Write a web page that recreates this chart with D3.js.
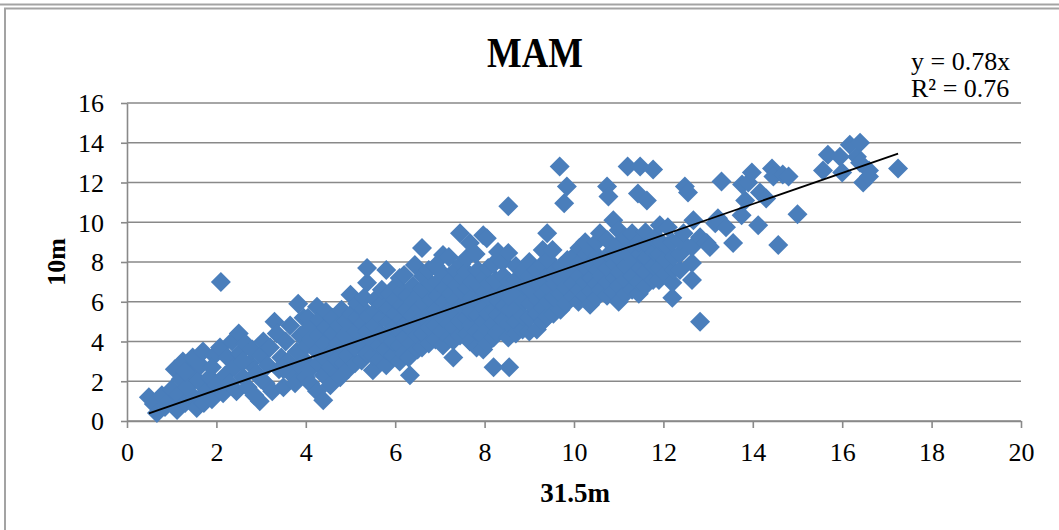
<!DOCTYPE html>
<html>
<head>
<meta charset="utf-8">
<script src="https://cdn.jsdelivr.net/npm/d3@7"></script>
<style>
  body { margin: 0; background: #fff; }
  svg { display: block; }
  text { font-family: "Liberation Serif", "Times New Roman", serif; fill: #000; }
</style>
</head>
<body>
<svg id="chart" width="1059" height="530"></svg>
<script>
// Spring (MAM) wind speed pairs: [speed at 31.5 m, speed at 10 m], m/s
const calmPairs = [
  [0.49,1.2],[0.6,0.85],[0.67,0.4],[0.78,1.3],[0.85,0.7],[0.95,1.0],[1.0,1.6],[1.07,2.6],[1.12,0.55],
  [1.15,1.3],[1.2,2.1],[1.25,3.0],[1.3,0.9],[1.35,1.7],[1.42,2.5],[1.47,3.2],[1.5,1.2],[1.56,0.65],
  [1.6,2.0],[1.65,2.8],[1.7,3.5],[1.72,0.9],[1.78,1.5],[1.85,2.2],[1.9,1.1],[1.95,3.3],[2.0,1.8],
  [2.08,3.7],[2.1,7.0],[2.15,1.4],[2.2,2.3],[2.25,3.2],[2.3,1.9],[2.35,4.0],[2.4,2.7],[2.45,1.5],
  [2.5,4.4],[2.52,3.4],[2.6,2.2],[2.65,3.9],[2.7,1.7],[2.75,2.9],[2.8,3.6],[2.85,1.3],[2.9,2.4],
  [2.97,1.0],[3.0,3.3],[3.05,4.0],[3.1,1.9],[3.15,2.8],[3.2,3.7],[3.25,1.5],[3.3,5.0],[3.35,4.4],
  [3.4,2.6],[3.45,3.2],[3.5,1.7],[3.55,4.0],[3.6,3.0],[3.65,4.8],[3.7,2.3],[3.76,1.9],[3.8,3.5],
  [3.83,5.9],[3.88,4.3],[3.9,2.7],[3.95,5.2],[1.3,2.5],[1.9,2.7],[2.6,3.0],[3.0,2.1],[3.5,2.6]
];

const moderatePairs = [
  [4.0,2.2],[4.0,3.0],[4.02,3.8],[4.0,4.5],[4.05,5.2],[4.1,1.9],[4.1,2.6],[4.12,4.1],[4.15,4.9],
  [4.25,5.75],[4.25,1.5],[4.25,3.5],[4.28,2.9],[4.3,4.3],[4.3,5.1],[4.39,1.05],[4.4,2.3],[4.4,3.2],
  [4.42,3.9],[4.45,4.7],[4.45,5.5],[4.55,1.8],[4.55,2.7],[4.58,3.5],[4.6,4.4],[4.6,5.2],[4.7,2.4],
  [4.7,3.1],[4.72,3.9],[4.75,4.8],[4.77,2.2],[4.8,5.6],[4.85,2.9],[4.85,3.6],[4.88,4.3],[4.9,5.0],
  [4.95,2.6],[4.95,3.3],[5.0,4.0],[5.0,4.6],[5.02,5.4],[5.0,6.35],[5.1,2.9],[5.1,3.7],[5.12,4.5],
  [5.15,5.2],[5.15,5.9],[5.25,3.05],[5.25,3.9],[5.28,4.9],[5.3,5.6],[5.3,6.2],[5.37,3.4],[5.37,4.5],
  [5.4,5.3],[5.37,6.95],[5.37,7.7],[5.5,2.55],[5.5,3.3],[5.5,4.0],[5.52,4.8],[5.55,5.5],[5.55,6.1],
  [5.65,3.1],[5.65,3.8],[5.68,4.4],[5.7,5.2],[5.7,5.9],[5.7,6.6],[5.8,2.8],[5.8,3.6],[5.82,4.2],
  [5.85,5.0],[5.85,5.7],[5.88,6.4],[5.8,7.6],[5.95,3.3],[5.95,4.0],[5.98,4.7],[6.0,5.4],[6.0,6.1],
  [6.02,6.8],[6.1,3.0],[6.1,3.8],[6.12,4.5],[6.15,5.1],[6.15,5.8],[6.15,6.5],[6.1,7.2],[6.2,3.4],
  [6.22,4.2],[6.25,4.9],[6.25,5.6],[6.28,6.3],[6.2,7.35],[6.33,2.3],[6.3,3.2],[6.35,3.9],[6.38,4.6],
  [6.38,5.3],[6.4,6.0],[6.4,6.8],[6.44,7.85],[6.5,3.6],[6.5,4.3],[6.52,5.0],[6.55,5.7],[6.55,6.4],
  [6.6,3.7],[6.62,4.4],[6.65,5.2],[6.65,5.9],[6.6,6.6],[6.62,7.3],[6.6,8.7],[6.75,3.9],[6.75,4.7],
  [6.78,5.4],[6.8,6.1],[6.8,6.9],[6.75,7.6],[6.9,4.1],[6.9,4.8],[6.92,5.6],[6.95,6.3],[6.95,7.0],
  [6.9,7.8],[7.07,3.8],[7.05,4.5],[7.08,5.2],[7.1,6.0],[7.1,6.7],[7.07,7.4],[7.07,8.35],[7.2,4.2],
  [7.2,4.9],[7.22,5.6],[7.25,6.4],[7.25,7.1],[7.2,8.25],[7.3,3.2],[7.3,4.05],[7.32,4.7],[7.35,5.4],
  [7.35,6.1],[7.38,6.8],[7.35,7.6],[7.45,4.3],[7.45,5.0],[7.48,5.8],[7.5,6.5],[7.5,7.2],[7.48,7.9],
  [7.45,9.45],[7.6,4.4],[7.6,5.2],[7.62,5.9],[7.62,6.7],[7.6,7.5],[7.6,8.2],[7.67,4.0],[7.7,4.8],
  [7.7,5.5],[7.72,6.2],[7.72,7.0],[7.67,8.95],[7.82,3.7],[7.82,4.5],[7.85,5.3],[7.85,6.0],[7.88,6.8],
  [7.85,7.6],[7.8,8.4],[7.97,3.6],[7.95,4.3],[7.98,5.0],[7.98,5.7],[8.0,6.5],[8.0,7.2],[7.97,9.35]
];

const freshPairs = [
  [8.05,3.9],[8.05,4.6],[8.08,5.4],[8.1,6.2],[8.1,6.9],[8.08,7.7],[8.05,9.2],[8.2,2.7],[8.2,4.2],
  [8.2,4.9],[8.22,5.6],[8.25,6.4],[8.25,7.1],[8.2,7.9],[8.27,4.45],[8.3,5.3],[8.32,6.0],[8.35,6.8],
  [8.3,8.5],[8.4,4.6],[8.42,5.1],[8.45,5.8],[8.45,6.5],[8.42,7.3],[8.4,8.0],[8.55,2.7],[8.53,4.2],
  [8.55,4.9],[8.57,5.6],[8.58,6.2],[8.55,7.0],[8.53,8.45],[8.53,10.8],[8.7,4.4],[8.7,5.0],[8.72,5.7],
  [8.72,6.4],[8.7,7.1],[8.7,7.8],[8.85,4.6],[8.85,5.3],[8.88,6.0],[8.88,6.8],[8.85,7.5],[9.0,4.5],
  [9.0,5.2],[9.02,5.9],[9.02,6.6],[9.0,7.3],[9.0,8.0],[9.17,4.6],[9.17,5.4],[9.2,6.1],[9.2,6.9],
  [9.17,7.6],[9.3,5.0],[9.3,5.7],[9.32,6.4],[9.32,7.1],[9.3,7.9],[9.3,8.6],[9.4,5.25],[9.42,6.0],
  [9.45,6.7],[9.45,7.4],[9.42,8.1],[9.4,9.45],[9.54,5.4],[9.55,6.2],[9.58,6.9],[9.58,7.6],[9.52,8.6],
  [9.7,5.6],[9.7,6.4],[9.72,7.1],[9.72,7.8],[9.68,12.8],[9.82,5.9],[9.82,6.7],[9.85,7.4],[9.85,8.1],
  [9.78,10.95],[9.84,11.8],[9.98,6.25],[9.98,6.9],[10.0,7.6],[10.0,8.3],[10.1,6.0],[10.12,6.6],
  [10.12,7.3],[10.15,8.0],[10.12,8.7],[10.25,6.3],[10.25,7.0],[10.28,7.7],[10.28,8.4],[10.25,9.0],
  [10.36,5.85],[10.38,6.5],[10.4,7.2],[10.4,7.9],[10.38,8.6],[10.5,6.2],[10.5,6.9],[10.52,7.6],
  [10.52,8.3],[10.5,9.0],[10.6,6.6],[10.62,7.3],[10.62,8.0],[10.58,9.45],[10.74,6.3],[10.75,7.0],
  [10.75,7.7],[10.78,8.4],[10.75,9.1],[10.74,11.8],[10.77,11.3],[10.88,6.5],[10.9,7.2],[10.9,7.9],
  [10.9,8.6],[10.88,10.1],[11.0,6.0],[11.0,6.8],[11.02,7.5],[11.02,8.2],[11.0,8.9],[11.0,9.6],
  [11.15,6.4],[11.15,7.1],[11.18,7.8],[11.18,8.5],[11.15,9.2],[11.2,12.8],[11.3,6.6],[11.3,7.3],
  [11.32,8.0],[11.32,8.8],[11.3,9.45],[11.45,6.4],[11.45,7.0],[11.48,7.7],[11.48,8.4],[11.45,9.0],
  [11.43,11.45],[11.48,12.8],[11.6,6.8],[11.6,7.5],[11.62,8.2],[11.62,8.9],[11.6,9.5],[11.63,11.1],
  [11.77,7.1],[11.77,7.8],[11.8,8.5],[11.8,9.2],[11.77,12.65],[11.9,7.1],[11.92,7.7],[11.92,8.4],
  [11.95,9.0],[11.92,9.85],[12.05,7.4],[12.05,8.1],[12.08,8.8],[12.1,9.75],[12.2,6.2],[12.2,6.95],
  [12.22,7.6],[12.22,8.25],[12.2,9.0],[12.37,7.6],[12.37,8.4],[12.37,9.1],[12.45,9.45],[12.48,11.8],
  [12.55,11.5],[12.64,7.1],[12.64,7.95],[12.64,8.75],[12.67,10.1],[12.82,5.0],[12.82,9.25],[12.97,8.95]
];

const strongPairs = [
  [13.04,8.75],[13.16,9.95],[13.22,10.2],[13.3,12.05],[13.4,9.75],[13.56,8.95],[13.75,10.35],
  [13.76,11.9],[13.83,11.1],[13.9,12.0],[13.98,12.5],[14.12,9.85],[14.16,11.5],[14.3,11.2],
  [14.43,12.7],[14.46,12.3],[14.57,8.85],[14.67,12.4],[14.8,12.3],[15.0,10.4],[15.57,12.6],
  [15.68,13.4],[15.95,13.3],[16.0,12.5],[16.17,13.9],[16.33,13.3],[16.4,14.0],[16.4,13.0],
  [16.47,12.0],[16.6,12.6],[16.6,12.3],[17.25,12.7]
];

// Linear fit through the origin and its goodness of fit
const trendSlope = 0.78;
const rSquared = 0.76;

const xTicks = [0, 2, 4, 6, 8, 10, 12, 14, 16, 18, 20];
const yTicks = [0, 2, 4, 6, 8, 10, 12, 14, 16];

const chartTitle = "MAM";
const xTitle = "31.5m";
const yTitle = "10m";

const allPairs = [...calmPairs, ...moderatePairs, ...freshPairs, ...strongPairs];

const svg = d3.select("#chart");
const W = 1059, H = 530;
const plot = { left: 127, right: 1021, top: 103, bottom: 421 };

const x = d3.scaleLinear().domain([0, 20]).range([plot.left, plot.right]);
const y = d3.scaleLinear().domain([0, 16]).range([plot.bottom, plot.top]);

// Outer frame
svg.append("line").attr("x1", 0).attr("x2", W).attr("y1", 4.5).attr("y2", 4.5)
  .attr("stroke", "#a3a3a3").attr("stroke-width", 2);
svg.append("path").attr("d", `M5,${H} V8.5 H${W}`)
  .attr("fill", "none").attr("stroke", "#a3a3a3").attr("stroke-width", 2);

// Horizontal gridlines
svg.append("g").selectAll("line").data(yTicks).join("line")
  .attr("x1", plot.left).attr("x2", plot.right)
  .attr("y1", d => y(d)).attr("y2", d => y(d))
  .attr("stroke", "#898989").attr("stroke-width", 1.6);

// Axes
const gx = svg.append("g").attr("transform", `translate(0,${plot.bottom})`)
  .call(d3.axisBottom(x).tickValues(xTicks).tickSize(7).tickSizeOuter(0).tickPadding(14.5).tickFormat(d3.format("d")));
const gy = svg.append("g").attr("transform", `translate(${plot.left},0)`)
  .call(d3.axisLeft(y).tickValues(yTicks).tickSize(6).tickSizeOuter(0).tickPadding(17).tickFormat(d3.format("d")));

[gx, gy].forEach(g => {
  g.select(".domain").attr("stroke", "#898989").attr("stroke-width", 1.6);
  g.selectAll(".tick line").attr("stroke", "#898989").attr("stroke-width", 1.6);
  g.selectAll(".tick text").attr("font-family", "'Liberation Serif', 'Times New Roman', serif")
    .attr("font-size", 26).attr("fill", "#000");
});
gy.selectAll(".tick text").attr("dy", "0.34em");

// Scatter markers (diamonds)
const r = 10;
const diamond = `M0,${-r}L${r},0L0,${r}L${-r},0Z`;
svg.append("g").selectAll("path").data(allPairs).join("path")
  .attr("d", diamond)
  .attr("transform", d => `translate(${x(d[0])},${y(d[1])})`)
  .attr("fill", "#4a7ebb");

// Trendline y = slope * x over the observed range
const [xMin, xMax] = d3.extent(allPairs, d => d[0]);
const trend = d3.line().x(d => x(d)).y(d => y(trendSlope * d));
svg.append("path").attr("d", trend([xMin, xMax]))
  .attr("fill", "none").attr("stroke", "#000").attr("stroke-width", 1.75);

// Titles
svg.append("text").attr("x", 535).attr("y", 67).attr("text-anchor", "middle")
  .attr("font-size", 42).attr("font-weight", "bold")
  .attr("textLength", 96).attr("lengthAdjust", "spacingAndGlyphs").text(chartTitle);
svg.append("text").attr("x", 575).attr("y", 502).attr("text-anchor", "middle")
  .attr("font-size", 27).attr("font-weight", "bold").text(xTitle);
svg.append("text").attr("transform", "translate(65,262) rotate(-90)").attr("text-anchor", "middle")
  .attr("font-size", 26).attr("font-weight", "bold").text(yTitle);

// Trendline equation
svg.append("text").attr("x", 911).attr("y", 70).attr("font-size", 26)
  .text(`y = ${trendSlope}x`);
svg.append("text").attr("x", 911).attr("y", 97).attr("font-size", 26)
  .text(`R² = ${rSquared}`);
</script>
</body>
</html>
